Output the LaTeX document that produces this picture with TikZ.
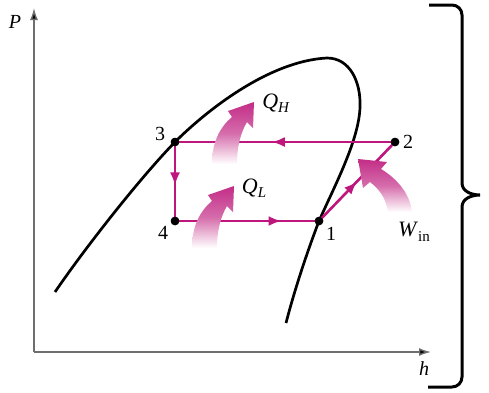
\documentclass[tikz,border=0pt]{standalone}
\usepackage{fontspec}
\setmainfont{Liberation Serif}
\usetikzlibrary{arrows.meta,decorations.markings}
\definecolor{cyc}{RGB}{190,22,125}
\definecolor{fat}{RGB}{195,45,135}
\definecolor{axisgray}{RGB}{110,110,110}
\newcommand{\sublbl}[2]{#1{\fontsize{15}{17}\selectfont\raisebox{-4.5pt}{#2}}}
\tikzset{
  cycle line/.style={draw=cyc, line width=2.6pt},
  dome/.style={draw=black, line width=2.7pt},
  dot/.style={circle, fill=black, inner sep=0pt, minimum size=8.5pt},
  lbl/.style={font=\fontsize{20}{22}\selectfont, inner sep=0pt},
  qlbl/.style={font=\fontsize{22}{24}\selectfont, inner sep=0pt},
  ilbl/.style={font=\fontsize{20}{22}\selectfont\itshape, inner sep=0pt},
  mid arrow/.style={postaction={decorate}, decoration={markings, mark=at position #1 with {\arrow{Latex[length=13pt,width=10pt]}}}},
  fatarrow/.style={top color=fat, bottom color=white, middle color=fat!70!white, draw=none},
  axis/.style={draw=axisgray, line width=1.4pt, -{Latex[length=12pt,width=8pt,fill=black]}},
  brace/.style={draw=black, line width=3pt}
}
\begin{document}
\begin{tikzpicture}[x=1pt,y=-1pt]
\useasboundingbox (0,0) rectangle (489,392);
% axes
\coordinate (o) at (34,352);
\coordinate (ytop) at (34,8);
\coordinate (xend) at (431,352);
\draw[axis] (o) -- (ytop);
\draw[axis] (o) -- (xend);
\node[ilbl] (P) at (15,22) {P};
\node[ilbl] (h) at (424,369) {h};
% points
\node[dot] (n1) at (319,221) {};
\node[dot] (n2) at (395,142) {};
\node[dot] (n3) at (175,142) {};
\node[dot] (n4) at (175,221) {};
% dome
\draw[dome] (55,292) .. controls (85,248) and (140,178) .. (n3.center)
  .. controls (205,112) and (268,61) .. (327,58)
  .. controls (350,58) and (361,82) .. (360,107)
  .. controls (359,140) and (335,185) .. (n1.center)
  .. controls (306,255) and (294,292) .. (286,323);
% cycle lines
\draw[cycle line, mid arrow=0.56] (n2.center) -- (n3.center);
\draw[cycle line, mid arrow=0.55] (n3.center) -- (n4.center);
\draw[cycle line, mid arrow=0.74] (n4.center) -- (n1.center);
\draw[cycle line, mid arrow=0.5] (n1.center) -- (n2.center);
\node[dot] at (n1) {};
\node[dot] at (n2) {};
\node[dot] at (n3) {};
\node[dot] at (n4) {};
% labels
\node[lbl] (l1) at (331,234) {1};
\node[lbl] (l2) at (408,142) {2};
\node[lbl] (l3) at (160,134) {3};
\node[lbl] (l4) at (163,233) {4};
\node[qlbl] (QH) at (276,103) {\sublbl{\textit{Q}}{\textit{H}}};
\node[qlbl] (QL) at (254,188) {\sublbl{\textit{Q}}{\textit{L}}};
\node[qlbl] (Win) at (414,232) {\sublbl{\textit{W}}{in}};
% fat arrows
\shade[fatarrow] (212,164) .. controls (212,142) and (220,127) .. (232,117) -- (228,111) -- (254,102) -- (253,128) -- (247,122) .. controls (241,132) and (237,146) .. (237,164) -- cycle;
\begin{scope}[shift={(-20,84)}]
\shade[fatarrow] (212,164) .. controls (212,142) and (220,127) .. (232,117) -- (228,111) -- (254,102) -- (253,128) -- (247,122) .. controls (241,132) and (237,146) .. (237,164) -- cycle;
\end{scope}
\shade[fatarrow] (388,212) .. controls (386,198) and (379,189) .. (370,182) -- (363,188) -- (358,159) -- (387,162) -- (381,169) .. controls (396,178) and (410,193) .. (412,212) -- cycle;
% brace
\draw[brace] (429,5) -- (452,5) to[out=0,in=90] (462,15) -- (462,183) to[out=-90,in=180] (480,195) to[out=180,in=90] (462,207) -- (462,377) to[out=-90,in=0] (452,387) -- (428,387);
\end{tikzpicture}
\end{document}
